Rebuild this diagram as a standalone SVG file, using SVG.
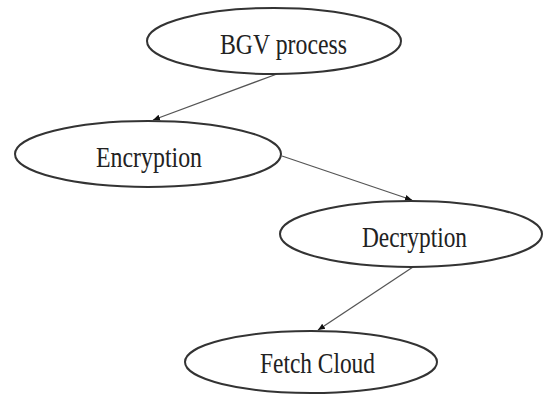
<svg xmlns="http://www.w3.org/2000/svg" width="547" height="394" viewBox="0 0 547 394">
<style>
.n{fill:#fff;stroke:#333;stroke-width:2}
.t{font-family:"Liberation Serif",serif;font-size:30px;fill:#222;text-anchor:middle}
.e{stroke:#555;stroke-width:1.3;fill:none}
</style>
<defs>
<marker id="a" markerWidth="8" markerHeight="8" refX="7" refY="4" orient="auto" markerUnits="userSpaceOnUse">
<path d="M0,1 L7,4 L0,7 Z" fill="#111"/>
</marker>
</defs>
<rect width="547" height="394" fill="#fff"/>
<g id="edges">
<path class="e" d="M277,74 L153,120" marker-end="url(#a)"/>
<path class="e" d="M282,156 L412,200" marker-end="url(#a)"/>
<path class="e" d="M413,267 L318,330" marker-end="url(#a)"/>
</g>
<g id="bgv"><ellipse class="n" cx="274" cy="41" rx="127" ry="33"/><text class="t" x="283.5" y="54" textLength="127" lengthAdjust="spacingAndGlyphs">BGV process</text></g>
<g id="enc"><ellipse class="n" cx="148" cy="154" rx="133" ry="33"/><text class="t" x="149" y="167" textLength="106" lengthAdjust="spacingAndGlyphs">Encryption</text></g>
<g id="dec"><ellipse class="n" cx="411" cy="234" rx="131" ry="33"/><text class="t" x="414.5" y="247" textLength="105" lengthAdjust="spacingAndGlyphs">Decryption</text></g>
<g id="fc"><ellipse class="n" cx="311" cy="362" rx="126" ry="31"/><text class="t" x="317.5" y="373" textLength="115" lengthAdjust="spacingAndGlyphs">Fetch Cloud</text></g>
</svg>
